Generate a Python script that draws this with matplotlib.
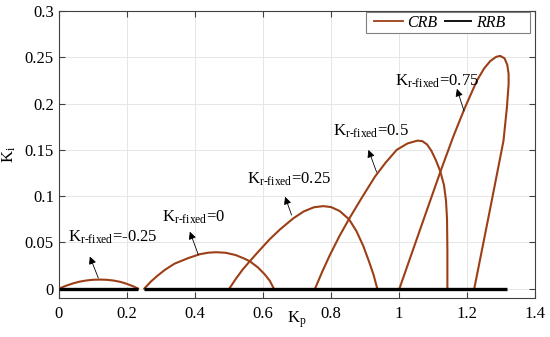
import matplotlib
matplotlib.use("Agg")
import matplotlib.pyplot as plt
from matplotlib.patches import Rectangle

plt.rcParams['font.family'] = ['Liberation Serif', 'DejaVu Serif']
plt.rcParams['mathtext.fontset'] = 'custom'
plt.rcParams['mathtext.rm'] = 'Liberation Serif'
plt.rcParams['mathtext.it'] = 'Liberation Serif:italic'
plt.rcParams['font.size'] = 12

# CRB curves, one per K_r-fixed value
kp_m025 = [0.0, 0.02, 0.04, 0.06, 0.08, 0.10, 0.12, 0.14, 0.16, 0.18, 0.20, 0.22, 0.233]
ki_m025 = [0.0, 0.003, 0.0055, 0.0075, 0.0088, 0.0096, 0.0098, 0.0096, 0.0088, 0.0074, 0.0052, 0.0023, 0.0]

kp_0 = [0.251, 0.27, 0.29, 0.312, 0.34, 0.38, 0.415, 0.44, 0.462, 0.49, 0.52, 0.545, 0.562, 0.585, 0.605, 0.62, 0.632]
ki_0 = [0.0, 0.0075, 0.014, 0.0204, 0.027, 0.033, 0.0373, 0.0389, 0.0394, 0.0388, 0.0363, 0.0325, 0.0294, 0.023, 0.0155, 0.0085, 0.0]

kp_025 = [0.501, 0.52, 0.54, 0.562, 0.59, 0.62, 0.65, 0.689, 0.72, 0.75, 0.777, 0.80, 0.825, 0.853, 0.875, 0.895, 0.912, 0.925, 0.936]
ki_025 = [0.0, 0.0105, 0.0205, 0.030, 0.0415, 0.0535, 0.064, 0.076, 0.0835, 0.088, 0.0892, 0.0882, 0.084, 0.075, 0.062, 0.046, 0.029, 0.015, 0.0]

kp_05 = [0.753, 0.775, 0.797, 0.825, 0.854, 0.89, 0.929, 0.96, 0.993, 1.025, 1.054, 1.068, 1.082, 1.095, 1.108, 1.121, 1.132, 1.138, 1.141, 1.142, 1.142]
ki_05 = [0.0, 0.019, 0.0366, 0.057, 0.076, 0.098, 0.121, 0.136, 0.150, 0.157, 0.160, 0.1595, 0.156, 0.149, 0.139, 0.127, 0.112, 0.095, 0.075, 0.042, 0.0]

kp_075 = [1.001, 1.04, 1.08, 1.123, 1.16, 1.194, 1.229, 1.25, 1.268, 1.285, 1.297, 1.31, 1.318, 1.322, 1.322, 1.317, 1.307, 1.29, 1.267, 1.244, 1.221]
ki_075 = [0.0, 0.041, 0.083, 0.128, 0.165, 0.196, 0.225, 0.238, 0.246, 0.2505, 0.2516, 0.249, 0.242, 0.232, 0.221, 0.196, 0.160, 0.128, 0.085, 0.0425, 0.0]

# RRB segments along Ki = 0
rrb_kp = [[0.0, 0.234], [0.25, 1.317]]
rrb_ki = [[0.0, 0.0], [0.0, 0.0]]

kr_labels = ['-0.25', '0', '0.25', '0.5', '0.75']
label_pos = [(0.026, 0.0505), (0.302, 0.0724), (0.552, 0.1137), (0.805, 0.1656), (0.988, 0.2194)]
arrow_head = [(0.091, 0.0347), (0.385, 0.0616), (0.665, 0.0993), (0.91, 0.150), (1.17, 0.216)]
arrow_tail = [(0.116, 0.0115), (0.41, 0.0366), (0.684, 0.0796), (0.934, 0.126), (1.191, 0.192)]

crb_color = '#9c3f17'

fig = plt.figure(figsize=(5.5, 3.37), dpi=100)
ax = fig.add_axes([0.107, 0.116, 0.866, 0.851])

curves = [(kp_m025, ki_m025), (kp_0, ki_0), (kp_025, ki_025), (kp_05, ki_05), (kp_075, ki_075)]
for i, (kp, ki) in enumerate(curves):
    ax.plot(kp, ki, color=crb_color, lw=1.5, label='CRB' if i == 0 else None, zorder=3)

for i in range(len(rrb_kp)):
    ax.plot(rrb_kp[i], rrb_ki[i], color='black', lw=2.4, solid_capstyle='butt',
            label='RRB' if i == 0 else None, zorder=4)

for lab, pos, head, tail in zip(kr_labels, label_pos, arrow_head, arrow_tail):
    ax.text(pos[0], pos[1], r'$\mathrm{K_{r\text{-}fixed}}$=' + lab, fontsize=12,
            ha='left', va='baseline', zorder=5)
    ax.annotate('', xy=head, xytext=tail,
                arrowprops=dict(arrowstyle='-|>', color='black', lw=0.6,
                                mutation_scale=11, shrinkA=0, shrinkB=0), zorder=5)

ax.set_xlim(0, 1.4)
ax.set_ylim(-0.01, 0.3)
ax.set_xticks([0, 0.2, 0.4, 0.6, 0.8, 1, 1.2, 1.4])
ax.set_xticklabels(['0', '0.2', '0.4', '0.6', '0.8', '1', '1.2', '1.4'])
ax.set_yticks([0, 0.05, 0.1, 0.15, 0.2, 0.25, 0.3])
ax.set_yticklabels(['0', '0.05', '0.1', '0.15', '0.2', '0.25', '0.3'])
ax.grid(True, color='#e6e6e6', lw=0.7)
ax.set_axisbelow(True)
ax.tick_params(direction='in', top=True, right=True, length=4, width=0.8,
               color='#404040', labelsize=12)
ax.tick_params(axis='x', pad=6)
for s in ax.spines.values():
    s.set_color('#404040')
    s.set_linewidth(0.8)

ax.set_xlabel(r'$\mathrm{K_p}$', fontsize=12)
ax.xaxis.set_label_coords(0.5, -0.04)
ax.set_ylabel(r'$\mathrm{K_i}$', fontsize=12)
ax.yaxis.set_label_coords(-0.085, 0.5)

# legend box like the MATLAB one: frame drawn separately, wider than its content
ax.add_patch(Rectangle((0.645, 0.923), 0.3445, 0.0735, transform=ax.transAxes,
                       facecolor='white', edgecolor='#808080', lw=0.8, zorder=6))
leg = ax.legend(loc='center', bbox_to_anchor=(0.80, 0.96), ncol=2, frameon=False,
                prop={'style': 'italic', 'size': 11.5}, handlelength=1.8,
                handletextpad=0.25, columnspacing=0.4, borderpad=0.0)
leg.set_zorder(7)
for h in leg.get_lines():
    h.set_linewidth(1.3)

fig.savefig('out.png', dpi=100)
